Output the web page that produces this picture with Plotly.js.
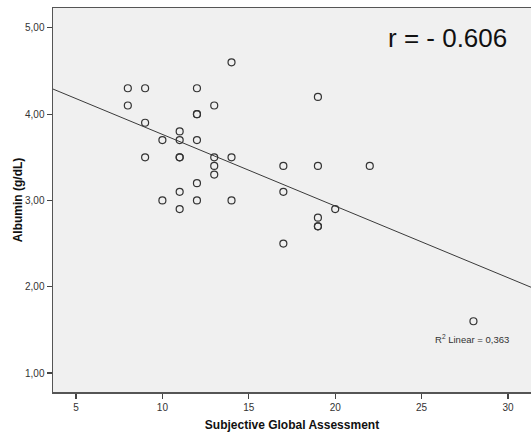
<!DOCTYPE html>
<html>
<head>
<meta charset="utf-8">
<script src="https://cdn.plot.ly/plotly-3.0.1.min.js"></script>
<style>html,body{margin:0;padding:0;background:#fff;}#chart{width:531px;height:439px;}</style>
</head>
<body>
<div id="chart"></div>
<script>
// Subjective Global Assessment score (x) and serum albumin in g/dL (y)
const sgaScore = [8, 9, 12, 14, 8, 13, 12, 12, 9, 11, 10, 11, 12, 9, 11, 11, 13, 14, 13, 13, 12, 11, 10, 12, 14, 11,
                  19, 17, 19, 22, 17, 20, 19, 19, 19, 17, 28];
const albumin  = [4.3, 4.3, 4.3, 4.6, 4.1, 4.1, 4.0, 4.0, 3.9, 3.8, 3.7, 3.7, 3.7, 3.5, 3.5, 3.5, 3.5, 3.5, 3.4, 3.3, 3.2, 3.1, 3.0, 3.0, 3.0, 2.9,
                  4.2, 3.4, 3.4, 3.4, 3.1, 2.9, 2.8, 2.7, 2.7, 2.5, 1.6];
const xTickVals = [5, 10, 15, 20, 25, 30];
const yTickVals = [1, 2, 3, 4, 5];
const yTickText = ['1,00', '2,00', '3,00', '4,00', '5,00'];
const rText = 'r = - 0.606';
const r2Text = 'R<sup>2</sup> Linear = 0,363';

const xRange = [3.67, 31.33];
const yRange = [0.78, 5.23];

// least-squares fit line
const n = sgaScore.length;
const mx = sgaScore.reduce((a, b) => a + b, 0) / n;
const my = albumin.reduce((a, b) => a + b, 0) / n;
let sxy = 0, sxx = 0;
for (let i = 0; i < n; i++) { sxy += (sgaScore[i] - mx) * (albumin[i] - my); sxx += (sgaScore[i] - mx) ** 2; }
const slope = sxy / sxx;
const intercept = my - slope * mx;
const fitX = [xRange[0], xRange[1]];
const fitY = fitX.map(x => intercept + slope * x);

const font = 'Arial, "Liberation Sans", sans-serif';

const traces = [
  {
    x: fitX, y: fitY, mode: 'lines', type: 'scatter',
    line: {color: '#3a3a3a', width: 1}, hoverinfo: 'skip', showlegend: false
  },
  {
    x: sgaScore, y: albumin, mode: 'markers', type: 'scatter',
    marker: {symbol: 'circle-open', size: 7, color: '#333', line: {width: 1.2, color: '#333'}},
    showlegend: false
  }
];

const layout = {
  width: 531, height: 439,
  margin: {l: 53, r: 0, t: 8, b: 47},
  paper_bgcolor: '#ffffff',
  plot_bgcolor: '#f0f0f0',
  font: {family: font, size: 10, color: '#333'},
  xaxis: {
    range: xRange, tickvals: xTickVals, showgrid: false, zeroline: false,
    showline: true, linecolor: '#555', linewidth: 1.5, mirror: true,
    ticks: 'outside', ticklen: 5, tickwidth: 1.2, tickcolor: '#444',
    tickfont: {family: font, size: 10, color: '#333'},
    title: {text: '<b>Subjective Global Assessment</b>', font: {family: font, size: 12, color: '#111'}, standoff: 9}
  },
  yaxis: {
    range: yRange, tickvals: yTickVals, ticktext: yTickText, showgrid: false, zeroline: false,
    showline: true, linecolor: '#555', linewidth: 1.5,
    ticks: 'outside', ticklen: 5, tickwidth: 1.2, tickcolor: '#444',
    tickfont: {family: font, size: 10, color: '#333'},
    title: {text: '<b>Albumin (g/dL)</b>', font: {family: font, size: 12, color: '#111'}, standoff: 0}
  },
  annotations: [
    {x: 0.955, y: 0.967, xref: 'paper', yref: 'paper', xanchor: 'right', yanchor: 'top', showarrow: false,
     text: rText, font: {family: font, size: 26, color: '#111'}},
    {x: 0.958, y: 0.138, xref: 'paper', yref: 'paper', xanchor: 'right', yanchor: 'middle', showarrow: false,
     text: r2Text, font: {family: font, size: 9.5, color: '#333'}}
  ]
};

Plotly.newPlot('chart', traces, layout, {displayModeBar: false, staticPlot: true});
</script>
</body>
</html>
